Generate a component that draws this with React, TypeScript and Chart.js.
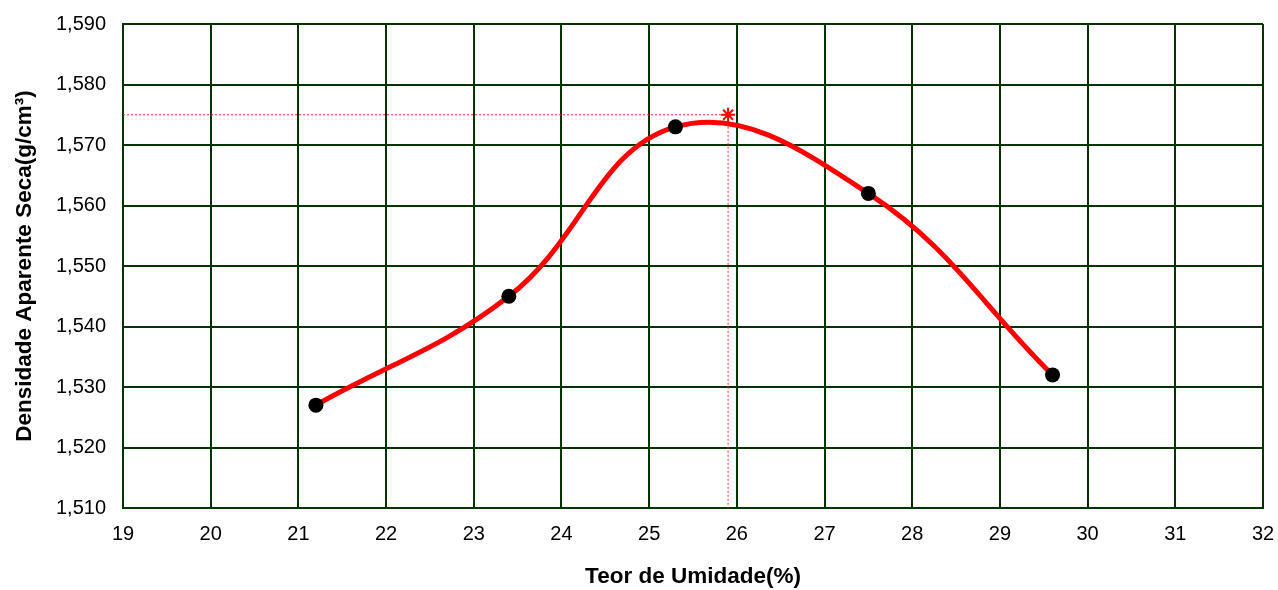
import React, { useEffect, useRef } from "react";
import { Chart, registerables } from "chart.js";

Chart.register(...registerables);

const moisture = [21.2, 23.4, 25.3, 27.5, 29.6];
const density = [1.527, 1.545, 1.573, 1.562, 1.532];
const optimumMoisture = 25.9;
const maxDensity = 1.575;
const xTicks = [19, 20, 21, 22, 23, 24, 25, 26, 27, 28, 29, 30, 31, 32];
const yMin = 1.51;
const yMax = 1.59;
const yStep = 0.01;

const GRID = "#043304";
const FONT = "'Liberation Sans', Arial, sans-serif";

export default function App() {
  const ref = useRef<HTMLCanvasElement | null>(null);

  useEffect(() => {
    document.body.style.margin = "0";
    if (!ref.current) return;
    const chart = new Chart(ref.current, {
      type: "scatter",
      data: {
        datasets: [
          {
            label: "curve",
            data: moisture.map((x, i) => ({ x, y: density[i] })),
            showLine: true,
            borderColor: "#ff0000",
            borderWidth: 5,
            tension: 0.4,
            pointRadius: 7.5,
            pointBackgroundColor: "#000000",
            pointBorderColor: "#000000",
            pointBorderWidth: 0,
            order: 0,
          },
          {
            label: "max",
            data: [{ x: optimumMoisture, y: maxDensity }],
            pointStyle: "star",
            pointRadius: 7,
            borderColor: "#ff0000",
            backgroundColor: "#ff0000",
            pointBorderWidth: 2,
            order: 1,
          },
          {
            label: "h",
            data: [
              { x: xTicks[0], y: maxDensity },
              { x: optimumMoisture, y: maxDensity },
            ],
            showLine: true,
            borderColor: "#ff3030",
            borderWidth: 1,
            borderDash: [2, 2],
            pointRadius: 0,
            order: 2,
          },
          {
            label: "v",
            data: [
              { x: optimumMoisture, y: maxDensity },
              { x: optimumMoisture, y: yMin },
            ],
            showLine: true,
            borderColor: "#ff3030",
            borderWidth: 1,
            borderDash: [2, 2],
            pointRadius: 0,
            order: 2,
          },
        ],
      },
      options: {
        animation: false,
        responsive: false,
        layout: { padding: { top: 24, right: 15, bottom: 0, left: 0 } },
        plugins: { legend: { display: false }, tooltip: { enabled: false } },
        scales: {
          x: {
            type: "linear",
            min: xTicks[0],
            max: xTicks[xTicks.length - 1],
            afterBuildTicks: (s: any) => {
              s.ticks = xTicks.map((v) => ({ value: v }));
            },
            afterFit: (s: any) => {
              s.height = 82;
              s.paddingLeft = 0;
              s.paddingRight = 0;
            },
            grid: { color: GRID, lineWidth: 2, drawTicks: false },
            border: { color: GRID, width: 2 },
            ticks: {
              color: "#000",
              padding: 14,
              font: { family: FONT, size: 20 },
            },
            title: {
              display: true,
              text: "Teor de Umidade(%)",
              color: "#000",
              padding: { top: 0, bottom: 0 },
              font: { family: FONT, size: 22.5, weight: "bold" },
            },
          },
          y: {
            type: "linear",
            min: yMin,
            max: yMax,
            ticks: {
              stepSize: yStep,
              color: "#000",
              padding: 17,
              font: { family: FONT, size: 20 },
              callback: (v: any) => Number(v).toFixed(3).replace(".", ","),
            },
            afterFit: (s: any) => {
              s.width = 123;
              s.paddingTop = 0;
              s.paddingBottom = 0;
            },
            grid: { color: GRID, lineWidth: 2, drawTicks: false },
            border: { color: GRID, width: 2 },
            title: {
              display: true,
              text: "Densidade Aparente Seca(g/cm³)",
              color: "#000",
              padding: { top: 11, bottom: 0 },
              font: { family: FONT, size: 22.5, weight: "bold" },
            },
          },
        },
      },
    });
    return () => chart.destroy();
  }, []);

  return (
    <div style={{ width: 1278, height: 590, background: "#fff" }}>
      <canvas ref={ref} width={1278} height={590} style={{ display: "block" }} />
    </div>
  );
}
